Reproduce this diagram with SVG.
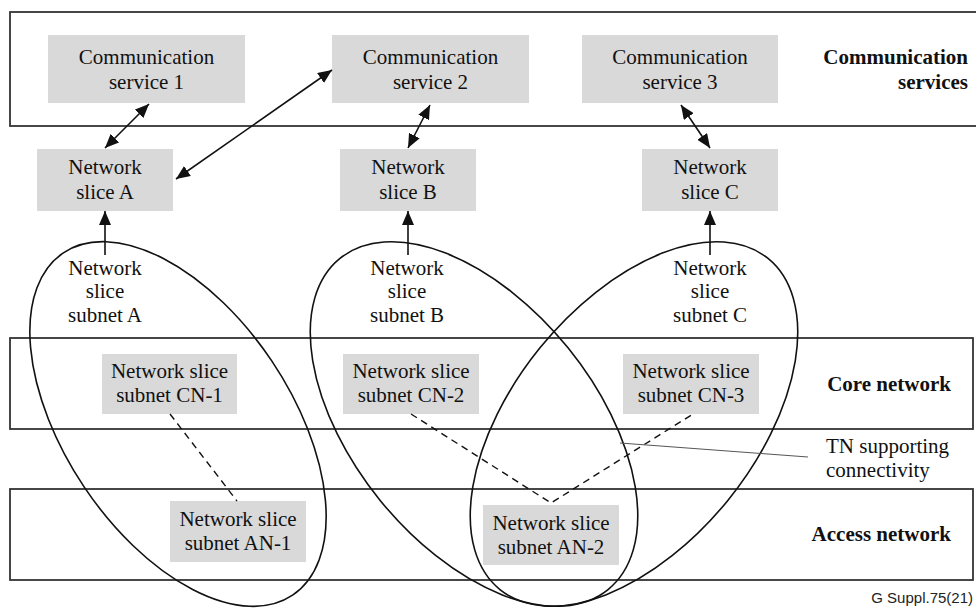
<svg xmlns="http://www.w3.org/2000/svg" width="976" height="608" viewBox="0 0 976 608">
<style>
.band{fill:none;stroke:#333;stroke-width:1.8}
.box{fill:#d9d9d9;stroke:none}
.t{font-family:"Liberation Serif","Times New Roman",serif;font-size:21px;fill:#111;text-anchor:middle}
.b{font-family:"Liberation Serif","Times New Roman",serif;font-size:21px;font-weight:bold;fill:#111;text-anchor:end}
.l{font-family:"Liberation Serif","Times New Roman",serif;font-size:21px;fill:#111;text-anchor:start}
.ell{fill:none;stroke:#111;stroke-width:1.6}
.arr{fill:none;stroke:#111;stroke-width:1.6}
.dash{fill:none;stroke:#111;stroke-width:1.4;stroke-dasharray:7 5}
.thin{fill:none;stroke:#555;stroke-width:1}
</style>
<defs>
<marker id="ah" markerUnits="userSpaceOnUse" markerWidth="15" markerHeight="12" refX="14" refY="6" orient="auto-start-reverse">
<path d="M0,0 L14,6 L0,12 z" fill="#111"/>
</marker>
</defs>

<g id="bands">
<rect class="band" x="10" y="12" width="980" height="114"/>
<rect class="band" x="10" y="338" width="963" height="91"/>
<rect class="band" x="10" y="489" width="963" height="91"/>
<text class="b" x="968" y="64">Communication</text>
<text class="b" x="968" y="89">services</text>
<text class="b" x="951" y="391">Core network</text>
<text class="b" x="951" y="541">Access network</text>
</g>

<g id="cs1"><rect class="box" x="48" y="35" width="197" height="68"/><text class="t" x="146.5" y="64">Communication</text><text class="t" x="146.5" y="89">service 1</text></g>
<g id="cs2"><rect class="box" x="332" y="35" width="197" height="68"/><text class="t" x="430.5" y="64">Communication</text><text class="t" x="430.5" y="89">service 2</text></g>
<g id="cs3"><rect class="box" x="582" y="35" width="196" height="68"/><text class="t" x="680" y="64">Communication</text><text class="t" x="680" y="89">service 3</text></g>

<g id="nsA"><rect class="box" x="37" y="149" width="136" height="62"/><text class="t" x="105" y="174">Network</text><text class="t" x="105" y="199">slice A</text></g>
<g id="nsB"><rect class="box" x="340" y="149" width="136" height="62"/><text class="t" x="408" y="174">Network</text><text class="t" x="408" y="199">slice B</text></g>
<g id="nsC"><rect class="box" x="642" y="149" width="136" height="62"/><text class="t" x="710" y="174">Network</text><text class="t" x="710" y="199">slice C</text></g>

<g id="nssA"><ellipse class="ell" cx="178" cy="424" rx="206" ry="113" transform="rotate(56.2 178 424)"/><text class="t" x="105" y="275">Network</text><text class="t" x="105" y="298">slice</text><text class="t" x="105" y="322">subnet A</text></g>
<g id="nssB"><ellipse class="ell" cx="474" cy="424" rx="213" ry="121" transform="rotate(51 474 424)"/><text class="t" x="407" y="275">Network</text><text class="t" x="407" y="298">slice</text><text class="t" x="407" y="322">subnet B</text></g>
<g id="nssC"><ellipse class="ell" cx="634" cy="424" rx="213" ry="121" transform="rotate(-51 634 424)"/><text class="t" x="710" y="275">Network</text><text class="t" x="710" y="298">slice</text><text class="t" x="710" y="322">subnet C</text></g>

<g id="cn1"><rect class="box" x="102" y="354" width="135" height="60"/><text class="t" x="169.5" y="378">Network slice</text><text class="t" x="169.5" y="402">subnet CN-1</text></g>
<g id="cn2"><rect class="box" x="343" y="354" width="136" height="60"/><text class="t" x="411" y="378">Network slice</text><text class="t" x="411" y="402">subnet CN-2</text></g>
<g id="cn3"><rect class="box" x="623" y="354" width="136" height="60"/><text class="t" x="691" y="378">Network slice</text><text class="t" x="691" y="402">subnet CN-3</text></g>

<g id="an1"><rect class="box" x="170" y="501" width="136" height="61"/><text class="t" x="238" y="526">Network slice</text><text class="t" x="238" y="550">subnet AN-1</text></g>
<g id="an2"><rect class="box" x="483" y="505" width="136" height="60"/><text class="t" x="551" y="530">Network slice</text><text class="t" x="551" y="554">subnet AN-2</text></g>

<g id="tn"><text class="l" x="826" y="453">TN supporting</text><text class="l" x="826" y="477">connectivity</text></g>

<g id="connectors">
<line class="arr" x1="105" y1="148" x2="149" y2="104" marker-start="url(#ah)" marker-end="url(#ah)"/>
<line class="arr" x1="176" y1="179" x2="332" y2="70" marker-start="url(#ah)" marker-end="url(#ah)"/>
<line class="arr" x1="408" y1="148" x2="430" y2="105" marker-start="url(#ah)" marker-end="url(#ah)"/>
<line class="arr" x1="710" y1="148" x2="681" y2="105" marker-start="url(#ah)" marker-end="url(#ah)"/>
<line class="arr" x1="105" y1="255" x2="105" y2="211" marker-end="url(#ah)"/>
<line class="arr" x1="408" y1="255" x2="408" y2="211" marker-end="url(#ah)"/>
<line class="arr" x1="710" y1="255" x2="710" y2="211" marker-end="url(#ah)"/>
<line class="dash" x1="170" y1="414" x2="237" y2="501"/>
<polyline class="dash" points="411,414 551,503 693,414"/>
<line class="thin" x1="620" y1="443" x2="808" y2="457"/>
</g>

<text x="973" y="603" style="font-family:'Liberation Sans',Arial,sans-serif;font-size:15px;fill:#222;text-anchor:end">G Suppl.75(21)</text>
</svg>
